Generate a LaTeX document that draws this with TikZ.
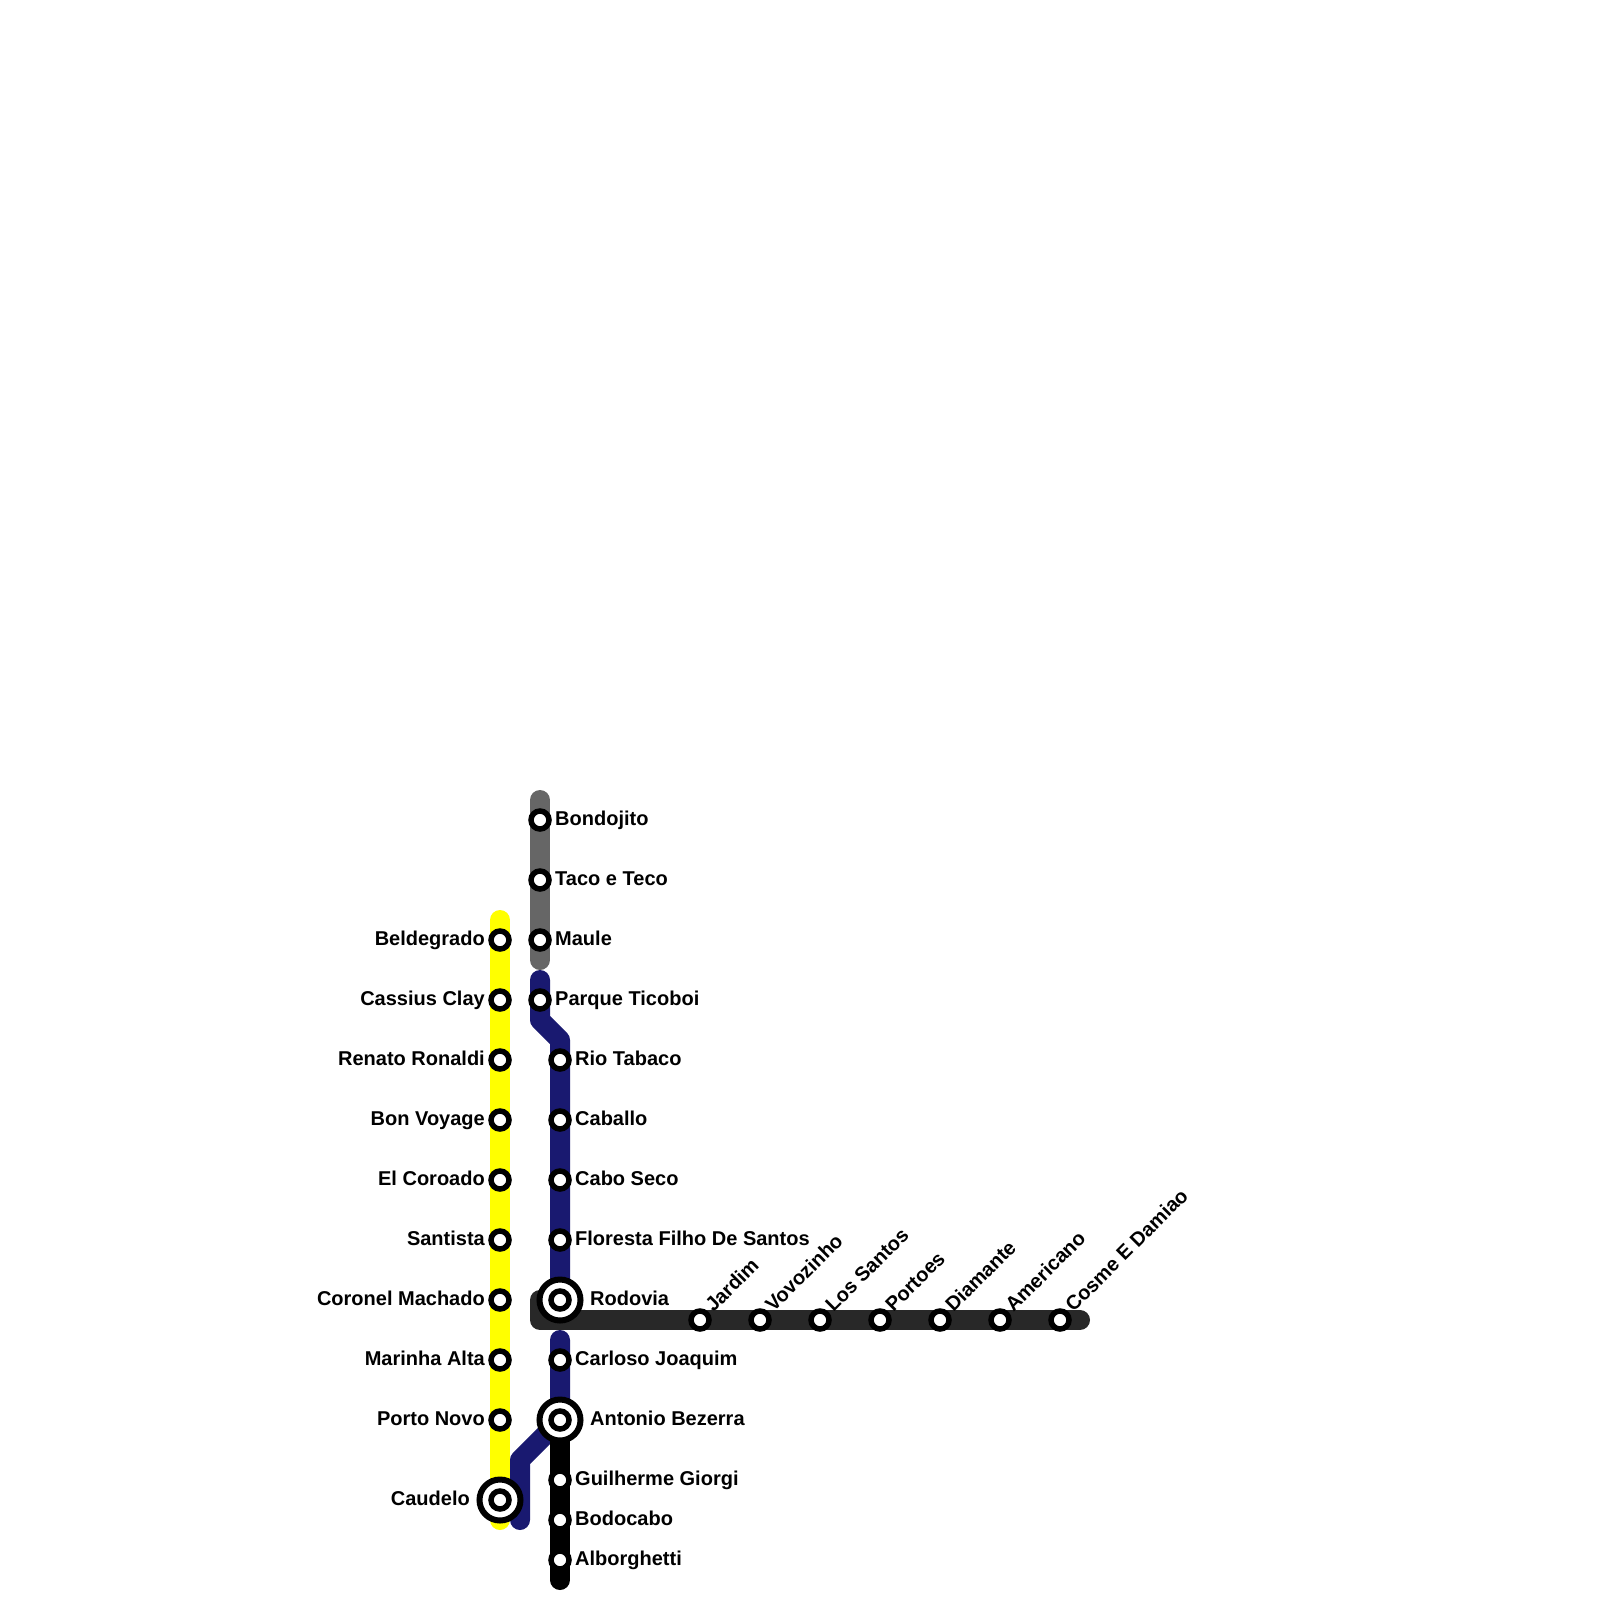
\documentclass[tikz,border=0pt]{standalone}
\usepackage{fontspec}
\setmainfont{Liberation Sans}
\usetikzlibrary{positioning}
\pgfdeclarelayer{lines}
\pgfsetlayers{lines,main}
\definecolor{lineyellow}{HTML}{FFFF00}
\definecolor{lineblue}{HTML}{191970}
\definecolor{linegrey}{HTML}{666666}
\definecolor{linedark}{HTML}{282828}

\begin{document}
\begin{tikzpicture}[
  x=1pt,
  y=-1pt,
  every node/.style={font=\fontsize{20}{24}\selectfont\bfseries, black},
  metro/.style={line width=20pt, line cap=round, line join=round},
  stop/.style={circle, draw=black, fill=white, line width=5.5pt, inner sep=0pt,
               minimum size=18pt},
  hub/.style={circle, draw=black, fill=white, line width=6pt, inner sep=0pt,
              minimum size=41pt},
  namer/.style={anchor=base west, inner sep=0pt},
  namel/.style={anchor=base east, inner sep=0pt},
  named/.style={anchor=base west, rotate=45, inner sep=0pt}
]
  \useasboundingbox (0,0) rectangle (1600,1600);

  % ---- stations with the name on the left ----
  \foreach \y/\id/\name in {940/beldegrado/Beldegrado, 1000/cassius/Cassius Clay,
      1060/renato/Renato Ronaldi, 1120/bonvoyage/Bon Voyage, 1180/coroado/El Coroado,
      1240/santista/Santista, 1300/coronel/Coronel Machado, 1360/marinha/Marinha Alta,
      1420/porto/Porto Novo} {
    \node[stop] (\id) at (500,\y) {};
    \node[namel] (\id name) at (485,\y+5.5) {\name};
  }

  % ---- stations with the name on the right ----
  \foreach \x/\y/\id/\name in {540/820/bondojito/Bondojito, 540/880/taco/Taco e Teco,
      540/940/maule/Maule, 540/1000/ticoboi/Parque Ticoboi, 560/1060/riotabaco/Rio Tabaco,
      560/1120/caballo/Caballo, 560/1180/caboseco/Cabo Seco,
      560/1240/floresta/Floresta Filho De Santos, 560/1360/carloso/Carloso Joaquim,
      560/1480/guilherme/Guilherme Giorgi, 560/1520/bodocabo/Bodocabo,
      560/1560/alborghetti/Alborghetti} {
    \node[stop] (\id) at (\x,\y) {};
    \node[namer] (\id name) at (\x+15,\y+5.5) {\name};
  }

  % ---- interchanges ----
  \foreach \x/\y/\id in {560/1300/rodovia, 560/1420/bezerra, 500/1500/caudelo} {
    \node[hub] (\id) at (\x,\y) {};
    \node[stop] (\id dot) at (\x,\y) {};
  }
  \node[namer] (rodovianame) at (590,1305.5) {Rodovia};
  \node[namer] (bezerraname) at (590,1425.5) {Antonio Bezerra};
  \node[namel] (caudeloname) at (470,1505.5) {Caudelo};

  % ---- stations along the dark line ----
  \foreach \x/\id/\name in {700/jardim/Jardim, 760/vovozinho/Vovozinho, 820/lossantos/Los Santos,
      880/portoes/Portoes, 940/diamante/Diamante, 1000/americano/Americano,
      1060/cosme/Cosme E Damiao} {
    \node[stop] (\id) at (\x,1320) {};
    \node[named] (\id name) at (\x+13.5,1313) {\name};
  }

  % ---- line ends and bends ----
  \coordinate (yellowtop) at (500,920);
  \coordinate (yellowend) at (500,1520);
  \coordinate (greytop) at (540,800);
  \coordinate (greyend) at (540,960);
  \coordinate (bluetop) at (540,980);
  \coordinate (bluebendA) at (540,1020);
  \coordinate (bluebendB) at (560,1040);
  \coordinate (bluemid) at (560,1340);
  \coordinate (bluebendC) at (520,1460);
  \coordinate (blueend) at (520,1520);
  \coordinate (blackend) at (560,1580);
  \coordinate (darkbend) at (540,1320);
  \coordinate (darkend) at (1080,1320);

  % ---- the lines ----
  \begin{pgfonlayer}{lines}
    \draw[metro, lineyellow] (yellowtop) -- (yellowend);
    \draw[metro, lineblue] (bluetop) -- (bluebendA) -- (bluebendB) -- (rodovia.center);
    \draw[metro, lineblue] (bluemid) -- (bezerra.center) -- (bluebendC) -- (blueend);
    \draw[metro, linegrey] (greytop) -- (greyend);
    \draw[metro, black] (bezerra.center) -- (blackend);
    \draw[metro, linedark] (rodovia.center -| darkbend) -- (darkbend) -- (darkend);
  \end{pgfonlayer}
\end{tikzpicture}
\end{document}
